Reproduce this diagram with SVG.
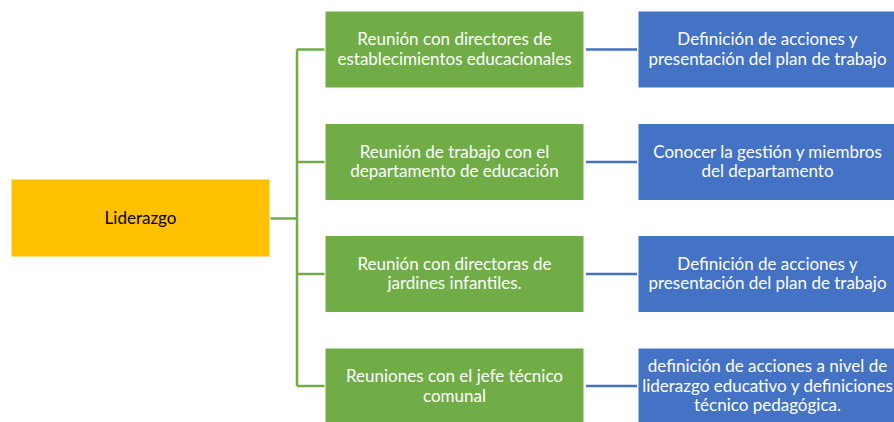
<svg xmlns="http://www.w3.org/2000/svg" width="894" height="422" viewBox="0 0 894 422">
<style>
.box{stroke:#ffffff;stroke-width:1}
.y{fill:#FFC000}
.g{fill:#70AD47}
.b{fill:#4472C4}
text{font-family:Lato,"Open Sans","Liberation Sans",sans-serif;font-size:17px;text-anchor:middle}
.w{fill:#ffffff}
.k{fill:#000000}
.cg{stroke:#70AD47;stroke-width:2.5;fill:none}
.cb{stroke:#4472C4;stroke-width:2.5;fill:none}
</style>
<rect width="894" height="422" fill="#ffffff"/>
<g id="connectors">
<path class="cg" d="M270 218.5H297M297 49.5V386M297 49.5H325M297 162H325M297 274H325M297 386H325"/>
<path class="cb" d="M586 49.5H637M586 162H637M586 274H637M586 386H637"/>
</g>
<g id="liderazgo">
<rect class="box y" x="11" y="179" width="259" height="78"/>
<text class="k" x="140.5" y="224">Liderazgo</text>
</g>
<g id="g1">
<rect class="box g" x="325" y="11" width="259" height="77"/>
<text class="w" x="454.5" y="45">Reunión con directores de</text>
<text class="w" x="454.5" y="64.5">establecimientos educacionales</text>
</g>
<g id="g2">
<rect class="box g" x="325" y="123.5" width="259" height="77"/>
<text class="w" x="454.5" y="157.5">Reunión de trabajo con el</text>
<text class="w" x="454.5" y="177">departamento de educación</text>
</g>
<g id="g3">
<rect class="box g" x="325" y="235.5" width="259" height="77"/>
<text class="w" x="454.5" y="269.5">Reunión con directoras de</text>
<text class="w" x="454.5" y="289">jardines infantiles.</text>
</g>
<g id="g4">
<rect class="box g" x="325" y="348" width="259" height="77"/>
<text class="w" x="454.5" y="382">Reuniones con el jefe técnico</text>
<text class="w" x="454.5" y="401.5">comunal</text>
</g>
<g id="b1">
<rect class="box b" x="638" y="11" width="259" height="77"/>
<text class="w" x="767.5" y="45">Definición de acciones y</text>
<text class="w" x="767.5" y="64.5">presentación del plan de trabajo</text>
</g>
<g id="b2">
<rect class="box b" x="638" y="123.5" width="259" height="77"/>
<text class="w" x="767.5" y="157.5">Conocer la gestión y miembros</text>
<text class="w" x="767.5" y="177">del departamento</text>
</g>
<g id="b3">
<rect class="box b" x="638" y="235.5" width="259" height="77"/>
<text class="w" x="767.5" y="269.5">Definición de acciones y</text>
<text class="w" x="767.5" y="289">presentación del plan de trabajo</text>
</g>
<g id="b4">
<rect class="box b" x="638" y="348" width="259" height="77"/>
<text class="w" x="767.5" y="372">definición de acciones a nivel de</text>
<text class="w" x="767.5" y="391.5">liderazgo educativo y definiciones</text>
<text class="w" x="767.5" y="411">técnico pedagógica.</text>
</g>
</svg>
